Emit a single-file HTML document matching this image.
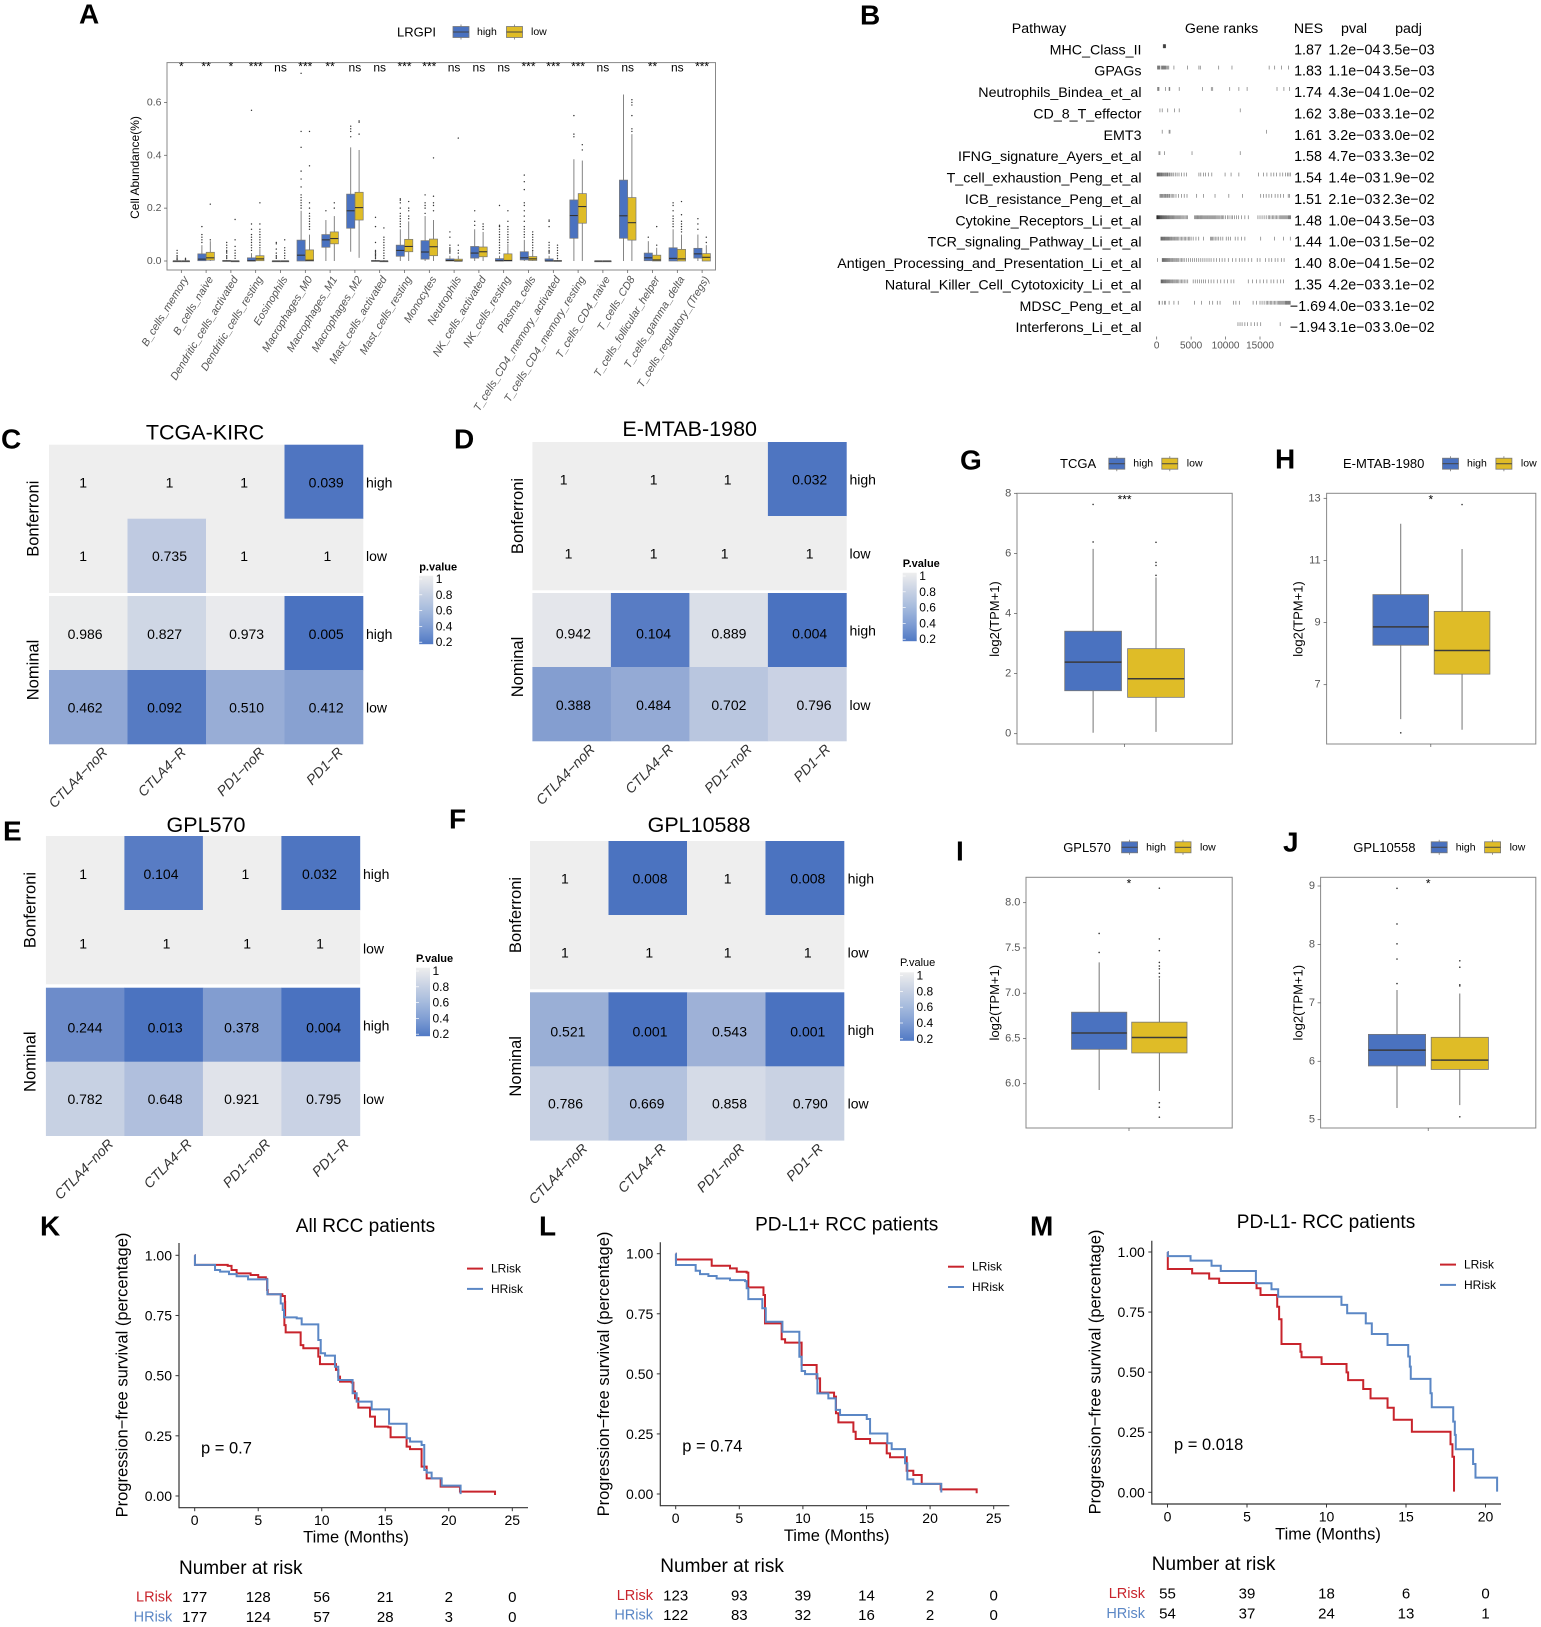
<!DOCTYPE html>
<html lang="en">
<head>
<meta charset="utf-8">
<title>LRGPI immune landscape figure</title>
<style>
html,body{margin:0;padding:0;background:#fff;width:1541px;height:1627px;overflow:hidden}
svg{display:block;filter:blur(0.3px)}
text{font-family:"Liberation Sans",Arial,sans-serif;fill:#000}
.letter{font-size:28px;font-weight:bold;dominant-baseline:central}
</style>
</head>
<body>
<svg id="figure" xmlns="http://www.w3.org/2000/svg" width="1541" height="1627" viewBox="0 0 1541 1627">
  <defs>
    <linearGradient id="pvalGrad" x1="0" y1="0" x2="0" y2="1">
      <stop offset="0" stop-color="#eeeeee"/>
      <stop offset="0.25" stop-color="#cad3e4"/>
      <stop offset="0.5" stop-color="#a6bbdd"/>
      <stop offset="0.75" stop-color="#7f9dd3"/>
      <stop offset="1" stop-color="#5079c4"/>
    </linearGradient>
  </defs>
  <rect width="1541" height="1627" fill="#fff"/>
  <text class="letter" x="79" y="14">A</text>
  <text class="letter" x="860" y="15">B</text>
  <text class="letter" x="1" y="439">C</text>
  <text class="letter" x="454" y="439">D</text>
  <text class="letter" x="3" y="831">E</text>
  <text class="letter" x="449" y="819">F</text>
  <text class="letter" x="960" y="460">G</text>
  <text class="letter" x="1275" y="459">H</text>
  <text class="letter" x="956" y="851">I</text>
  <text class="letter" x="1283" y="842">J</text>
  <text class="letter" x="40" y="1226">K</text>
  <text class="letter" x="539" y="1226">L</text>
  <text class="letter" x="1030" y="1226">M</text>
  <g id="panelA"></g>
  <g id="panelB"></g>
  <g id="panelC"></g>
  <g id="panelD"></g>
  <g id="panelE"></g>
  <g id="panelF"></g>
  <g id="panelG"></g>
  <g id="panelH"></g>
  <g id="panelI"></g>
  <g id="panelJ"></g>
  <g id="panelK"></g>
  <g id="panelL"></g>
  <g id="panelM"></g>
</svg>
<script>
/* ---------- Panel A data ---------- */
const immuneCategories = ["B_cells_memory","B_cells_naive","Dendritic_cells_activated","Dendritic_cells_resting","Eosinophils","Macrophages_M0","Macrophages_M1","Macrophages_M2","Mast_cells_activated","Mast_cells_resting","Monocytes","Neutrophils","NK_cells_activated","NK_cells_resting","Plasma_cells","T_cells_CD4_memory_activated","T_cells_CD4_memory_resting","T_cells_CD4_naive","T_cells_CD8","T_cells_follicular_helper","T_cells_gamma_delta","T_cells_regulatory_(Tregs)"];
const immuneSignificance = ["*","**","*","***","ns","***","**","ns","ns","***","***","ns","ns","ns","***","***","***","ns","ns","**","ns","***"];
const immuneTicks = [0,0.2,0.4,0.6];
const highQ1 = [0,.001,0,0,0,0,.052,.124,0,.018,.007,0,.011,0,.004,0,.086,0,.086,.001,0,.011];
const highMedian = [0,.007,0,.001,0,.022,.08,.19,0,.04,.034,.002,.03,.001,.012,0,.172,0,.171,.012,.01,.027];
const highQ3 = [0,.027,.002,.012,0,.079,.1,.253,.002,.06,.077,.008,.055,.009,.035,.008,.231,0,.306,.03,.05,.048];
const highWhiskerLow = [0,0,0,0,0,0,0,.035,0,0,0,0,0,0,0,0,0,0,0,0,0,0];
const highWhiskerHigh = [0,.06,.005,.03,0,.19,.155,.43,.005,.12,.17,.02,.12,.02,.08,.02,.385,0,.63,.075,.12,.1];
const highOutliers = [
 [.005,.01,.015,.02,.03,.04],[.07,.08,.09,.1,.13],[.01,.015,.02,.03,.035,.04,.05,.06,.07],[.04,.05,.06,.07,.08,.09,.1,.12,.14,.57],
 [.01,.015,.02,.03,.045,.065,.07],[.2,.21,.22,.23,.24,.25,.28,.31,.34,.43,.49,.71],[.19],[.47,.49,.5,.51],
 [.01,.015,.02,.025,.03,.035,.04,.07,.13,.165],[.13,.14,.15,.16,.17,.18,.2,.22,.23,.235],[.18,.2,.21,.22,.25],[.03,.035,.04,.045,.05,.06,.09,.11],
 [.135,.15,.19],[.03,.04,.05,.06,.07,.08,.09,.1,.11,.12,.13,.135,.21],[.09,.1,.11,.12,.13,.15,.17,.19,.21,.22,.27,.3,.325],[.03,.035,.04,.05,.06,.07,.13,.15,.155],
 [.47,.48,.55],[],[],[.09],[.13,.14,.15,.16,.17,.19,.21,.22],[.12,.14,.16]];
const lowQ1 = [0,.003,0,.001,0,0,.065,.155,0,.035,.02,0,.016,0,.002,0,.143,0,.079,0,0,0];
const lowMedian = [0,.012,0,.008,0,.003,.085,.202,0,.055,.054,0,.035,.002,.008,0,.206,0,.145,.004,.008,.014];
const lowQ3 = [0,.033,0,.02,0,.042,.11,.26,0,.082,.083,.007,.053,.027,.017,.002,.255,0,.24,.022,.044,.028];
const lowWhiskerLow = [0,0,0,0,0,0,0,.012,0,0,0,0,0,0,0,0,0,0,0,0,0,0];
const lowWhiskerHigh = [0,.075,.002,.045,0,.1,.17,.42,.003,.15,.155,.02,.11,.065,.038,.005,.38,0,.48,.05,.1,.06];
const lowOutliers = [
 [.005,.01],[.08,.215],[.01,.02,.03,.04,.055,.08,.157],[.05,.06,.07,.08,.09,.1,.11,.12,.14,.22],
 [.01,.02,.03,.04,.05,.08],[.12,.13,.14,.15,.16,.17,.18,.2,.22,.36,.49],[.2,.22],[.48,.525,.53],
 [.01,.02,.03,.04,.05,.06,.07,.08,.09,.125],[.16,.17,.19,.2,.225],[.19,.21,.22,.245,.39],[.03,.04,.06,.465],
 [.12,.13,.14],[.07,.08,.09,.1,.11,.12,.13,.15,.19],[.04,.05,.06,.07,.08,.09,.1,.11],[.01,.02,.03,.04,.05,.06],
 [.42,.44],[],[.49,.5,.55,.59,.6,.61],[.06,.13],[.11,.12,.13,.14,.15,.175,.225],[.07,.09]];

/* ---------- Panel B data ---------- */
const pathwayNames = ["MHC_Class_II","GPAGs","Neutrophils_Bindea_et_al","CD_8_T_effector","EMT3","IFNG_signature_Ayers_et_al","T_cell_exhaustion_Peng_et_al","ICB_resistance_Peng_et_al","Cytokine_Receptors_Li_et_al","TCR_signaling_Pathway_Li_et_al","Antigen_Processing_and_Presentation_Li_et_al","Natural_Killer_Cell_Cytotoxicity_Li_et_al","MDSC_Peng_et_al","Interferons_Li_et_al"];
const pathwayNes = ["1.87","1.83","1.74","1.62","1.61","1.58","1.54","1.51","1.48","1.44","1.40","1.35","\u22121.69","\u22121.94"];
const pathwayPval = ["1.2e\u221204","1.1e\u221204","4.3e\u221204","3.8e\u221203","3.2e\u221203","4.7e\u221203","1.4e\u221203","2.1e\u221203","1.0e\u221204","1.0e\u221203","8.0e\u221204","4.2e\u221203","4.0e\u221203","3.1e\u221203"];
const pathwayPadj = ["3.5e\u221203","3.5e\u221203","1.0e\u221202","3.1e\u221202","3.0e\u221202","3.3e\u221202","1.9e\u221202","2.3e\u221202","3.5e\u221203","1.5e\u221202","1.5e\u221202","3.1e\u221202","3.1e\u221202","3.0e\u221202"];
const rankTicks = [0,5000,10000,15000];
const geneRanks = [
 [950,1000,1050,1100,1150,1200,1250,1300],
 [130,200,270,400,470,700,800,900,1000,1100,1200,1300,1450,1600,1750,2500,4470,6130,6330,9000,10930,16330,17130,18130,19130],
 [130,270,330,1270,1800,1900,3270,6670,7930,8130,10600,11930,13130,17470,18470,19270],
 [470,800,1600,2600,3270,12130],
 [800,1800,1930,15930],
 [330,470,1130,5130,12130],
 [50,120,200,290,360,450,530,640,720,840,930,1050,1180,1260,1390,1520,1610,1780,1900,2080,2230,2470,2700,2960,3240,3600,3980,4310,6130,6400,6790,7100,7500,8000,9930,10800,11930,14800,15500,16000,16600,17000,17400,17900,18300,18700,19000,19200,19400],
 [470,600,700,830,950,1100,1230,1350,1500,1620,1780,1900,2100,2330,2500,2800,3150,3600,4000,4400,5800,6800,8470,10470,12470,15100,15500,15900,16300,16700,17200,17600,18000,18400,19100,19300],
 [0,40,80,120,160,200,250,300,350,400,460,520,590,660,730,800,880,960,1040,1120,1210,1300,1390,1480,1580,1680,1780,1890,2000,2110,2230,2350,2470,2600,2740,2880,3020,3170,3320,3480,3640,3800,3960,4130,4300,4480,5500,5620,5750,5880,6000,6130,6270,6400,6530,6670,6800,6940,7080,7220,7360,7500,7650,7800,7950,8100,8250,8400,8560,8720,8880,9040,9200,9380,9560,9740,10000,10300,10500,10800,11000,11300,11600,11900,12300,12800,13300,14700,15000,15300,15600,15900,16200,16400,16600,16800,17000,17200,17400,17600,17800,18000,18150,18300,18450,18600,18750,18900,19050,19150,19250,19350,19450],
 [600,680,760,850,930,1020,1110,1200,1300,1400,1500,1600,1700,1800,1920,2050,2170,2300,2430,2570,2700,2850,3000,3200,3400,3600,3800,4000,4200,4400,4600,4800,5000,5300,5700,6100,6800,7800,7950,8100,8300,8500,8750,9000,9300,9600,10100,10400,10700,11400,11800,12300,12800,15100,17100,18400,19400],
 [130,800,880,960,1050,1140,1230,1330,1430,1530,1640,1760,1880,2000,2130,2270,2400,2550,2700,2870,3050,3200,3400,3600,3800,4000,4300,4600,4900,5200,5500,5800,6100,6400,6700,7000,7300,7600,7900,8300,8700,9100,9500,9900,10400,11000,11500,12000,12400,12800,13300,13800,14600,15000,15800,16300,16700,17200,17600,18100,18500],
 [630,700,780,860,950,1040,1130,1230,1330,1430,1540,1650,1770,1890,2010,2140,2270,2400,2550,2700,2860,3020,3200,3400,3600,3800,4000,4250,4500,5300,5600,5900,6200,6500,6800,7100,7500,7900,8300,8800,9300,9800,10300,10800,11200,13300,13900,14500,15000,15500,16000,16600,17000,17500,18000,18400],
 [330,420,800,1130,1250,1800,2500,3130,5500,6500,7670,8130,8800,9200,11130,11500,12000,14000,14500,15000,15300,15600,15900,16100,16300,16500,16700,16900,17100,17300,17500,17700,17850,18000,18150,18300,18450,18600,18700,18800,18900,19000,19100,19200,19300,19400],
 [11800,12100,12400,12800,13200,13700,14200,14600,15100,17930]];

/* ---------- Heatmap data (rows: high, low) ---------- */
const therapyColumns = ["CTLA4\u2212noR","CTLA4\u2212R","PD1\u2212noR","PD1\u2212R"];
const groupRows = ["high","low"];
const colorbarTicks = [1,0.8,0.6,0.4,0.2];
const kircBonferroni = [["1","1","1","0.039"],["1","0.735","1","1"]];
const kircNominal = [["0.986","0.827","0.973","0.005"],["0.462","0.092","0.510","0.412"]];
const mtabBonferroni = [["1","1","1","0.032"],["1","1","1","1"]];
const mtabNominal = [["0.942","0.104","0.889","0.004"],["0.388","0.484","0.702","0.796"]];
const gpl570Bonferroni = [["1","0.104","1","0.032"],["1","1","1","1"]];
const gpl570Nominal = [["0.244","0.013","0.378","0.004"],["0.782","0.648","0.921","0.795"]];
const gpl10588Bonferroni = [["1","0.008","1","0.008"],["1","1","1","1"]];
const gpl10588Nominal = [["0.521","0.001","0.543","0.001"],["0.786","0.669","0.858","0.790"]];

/* ---------- Expression boxplot data: [whiskerLow, q1, median, q3, whiskerHigh] ---------- */
const tcgaTicks = [0,2,4,6,8];
const tcgaHigh = [.03,1.43,2.38,3.41,6.15];
const tcgaHighOutliers = [6.38,7.63];
const tcgaLow = [.06,1.21,1.83,2.83,5.2];
const tcgaLowOutliers = [5.27,5.6,5.7,6.37];
const mtabTicks = [7,9,11,13];
const mtabHigh = [5.89,8.27,8.86,9.9,12.18];
const mtabHighOutliers = [5.45];
const mtabLow = [5.55,7.34,8.1,9.36,11.37];
const mtabLowOutliers = [12.8];
const gpl570Ticks = [6,6.5,7,7.5,8];
const gpl570High = [5.93,6.38,6.56,6.79,7.34];
const gpl570HighOutliers = [7.45,7.66];
const gpl570Low = [5.92,6.34,6.51,6.68,7.16];
const gpl570LowOutliers = [5.63,5.74,5.79,7.18,7.22,7.27,7.3,7.34,7.47,7.6,8.16];
const gpl10558Ticks = [5,6,7,8,9];
const gpl10558High = [5.2,5.92,6.19,6.46,7.22];
const gpl10558HighOutliers = [7.33,7.75,8.01,8.35,8.96];
const gpl10558Low = [5.25,5.86,6.02,6.41,7.16];
const gpl10558LowOutliers = [5.05,7.29,7.31,7.61,7.72];

/* ---------- Survival data ---------- */
const survivalTicks = [0,0.25,0.5,0.75,1];
const kTimeTicks = [0,5,10,15,20,25];
const kLRiskTime = [0,.02,2.6,2.9,3.3,4.4,5,5.6,5.7,5.75,6.9,7.1,7.12,7.06,7.16,8.34,8.55,9.73,9.86,11.12,11.3,11.44,12.36,12.49,12.62,12.88,13.8,14.19,15.24,15.42,16.68,16.95,17.86,18.26,19.36,20.88,23.64];
const kLRiskSurv = [1,.96,.956,.939,.925,.918,.909,.902,.856,.838,.831,.807,.751,.71,.68,.627,.614,.579,.548,.524,.496,.475,.471,.434,.406,.367,.33,.288,.285,.244,.205,.195,.122,.073,.039,.018,.004];
const kHRiskTime = [0,.02,1.6,2,2.7,3.3,4.2,5.72,6.77,6.93,7.03,8.03,8.42,9.73,9.92,10.26,11.04,11.3,12.43,12.75,13.93,15.3,16.68,16.95,17.86,18.07,18.26,18.65,19.44,20.93];
const kHRiskSurv = [1,.96,.939,.932,.922,.913,.9,.838,.8,.773,.742,.738,.713,.648,.593,.583,.537,.482,.427,.392,.36,.3,.24,.226,.212,.108,.097,.073,.043,.008];
const kRiskLow = [177,128,56,21,2,0];
const kRiskHigh = [177,124,57,28,3,0];

const lTimeTicks = [0,5,10,15,20,25];
const lLRiskTime = [0,.02,2.83,4.27,4.8,5.58,5.71,6.9,7.02,8.33,8.6,9.9,11.08,11.35,12.45,12.6,12.79,13.97,14.15,15.28,16.59,16.85,18.16,18.68,19.34,20.83,23.66];
const lLRiskSurv = [1,.976,.95,.939,.925,.921,.86,.828,.71,.644,.63,.537,.481,.422,.405,.336,.298,.259,.229,.211,.169,.153,.097,.079,.042,.019,.003];
const lHRiskTime = [0,.02,1.57,1.91,2.57,3.22,4.27,5.45,5.58,5.71,6.81,7.08,8.39,9.72,9.9,10.17,11.14,12,12.58,12.92,15.02,15.28,16.64,16.98,18.03,18.21,18.68,20.88];
const lHRiskSurv = [1,.953,.929,.915,.907,.897,.89,.886,.856,.811,.773,.717,.675,.571,.512,.499,.419,.398,.35,.329,.312,.252,.211,.187,.128,.061,.042,.006];
const lRiskLow = [123,93,39,14,2,0];
const lRiskHigh = [122,83,32,16,2,0];

const mTimeTicks = [0,5,10,15,20];
const mLRiskTime = [0,.02,1.55,2.62,3.25,5.6,5.85,6.9,7.02,7.17,8.36,8.43,9.69,11.26,11.36,12.31,12.77,13.84,14.23,15.37,17.8,17.92,18,18.02];
const mLRiskSurv = [1,.929,.911,.889,.871,.849,.821,.772,.72,.617,.585,.562,.534,.499,.467,.43,.391,.352,.302,.252,.2,.148,.148,.003];
const mHRiskTime = [0,.02,1.45,2.77,3.35,5.56,6.54,6.96,10.94,11.3,12.47,12.85,13.84,15.14,15.24,15.3,16.54,16.62,17.97,18.07,18.13,19.22,19.37,20.73];
const mHRiskSurv = [1,.983,.964,.943,.921,.87,.845,.814,.78,.745,.703,.659,.613,.565,.523,.472,.412,.354,.294,.239,.179,.118,.061,.003];
const mRiskLow = [55,39,18,6,0];
const mRiskHigh = [54,37,24,13,1];

/* ---------- Helpers ---------- */
const NS = 'http://www.w3.org/2000/svg';
const BLUE = '#4a72c0', GOLD = '#dfbc27', KM_RED = '#c8242c', KM_BLUE = '#5b87c5';
function linear(d0, d1, p0, p1) { return v => p0 + (v - d0) * (p1 - p0) / (d1 - d0); }
function node(tag, parent, name, attrs) {
  const el = document.createElementNS(NS, tag);
  for (const k in attrs) el.setAttribute(k, attrs[k]);
  
  
  parent.appendChild(el);
  return el;
}
function txt(parent, name, str, x, y, size, attrs) {
  const el = node('text', parent, name, Object.assign({x: x, y: y, 'font-size': size, 'dominant-baseline': 'central'}, attrs || {}));
  el.textContent = str;
  return el;
}
function hLine(p, name, x1, x2, y, stroke, w) { return node('line', p, name, {x1: x1, x2: x2, y1: y, y2: y, stroke: stroke, 'stroke-width': w}); }
function vLine(p, name, x, y1, y2, stroke, w) { return node('line', p, name, {x1: x, x2: x, y1: y1, y2: y2, stroke: stroke, 'stroke-width': w}); }
function pColor(v) {
  const t = Math.pow(Math.min(1, Math.max(0, v)), 1.1);
  const c = (a, b) => Math.round(a + (b - a) * t);
  return 'rgb(' + c(74, 238) + ',' + c(114, 238) + ',' + c(192, 238) + ')';
}
function boxKey(p, name, x, y, color) {
  const g = node('g', p, name, {});
  vLine(g, name + '-whisker', x + 8, y - 2, y + 13, '#777', 0.8);
  node('rect', g, name + '-swatch', {x: x, y: y, width: 16, height: 11, fill: color, stroke: '#777', 'stroke-width': 0.8});
  hLine(g, name + '-median', x, x + 16, y + 5.5, '#444', 1);
  return g;
}

/* ---------- Panel A ---------- */
(function () {
  const p = document.getElementById('panelA');
  const yS = linear(0, 0.6, 261, 102.4);
  const xS = i => 181.3 + i * 24.8;
  node('rect', p, 'plot-border', {x: 167, y: 62.6, width: 548.5, height: 207.4, fill: 'none', stroke: '#888', 'stroke-width': 1});
  immuneTicks.forEach(v => {
    hLine(p, 'y-tick', 164, 167, yS(v), '#555', 0.7);
    txt(p, 'y-tick-label', v.toFixed(1), 161.5, yS(v), 10.5, {'text-anchor': 'end', style: 'fill:#555'});
  });
  txt(p, 'y-axis-title', 'Cell Abundance(%)', 0, 0, 12, {'text-anchor': 'middle', transform: 'translate(135,167.5) rotate(-90)'});
  const one = (cx, color, q1, med, q3, lo, hi, outs, name) => {
    const g = node('g', p, name, {});
    vLine(g, name + '-whisker', cx, yS(lo), yS(hi), '#777', 0.9);
    node('rect', g, name + '-box', {x: cx - 4.1, y: yS(q3), width: 8.2, height: Math.max(0.8, yS(q1) - yS(q3)), fill: color, stroke: '#777', 'stroke-width': 0.7});
    hLine(g, name + '-median', cx - 4.1, cx + 4.1, yS(med), '#333', 1.1);
    outs.forEach(v => node('circle', g, name + '-outlier', {cx: cx, cy: yS(v), r: 0.7, fill: '#333'}));
  };
  immuneCategories.forEach((c, i) => {
    const x = xS(i);
    vLine(p, 'x-tick', x, 270, 273, '#555', 0.7);
    txt(p, 'x-tick-label', c, 0, 0, 10.8, {'text-anchor': 'end', 'font-style': 'italic', style: 'fill:#555', 'dominant-baseline': 'auto', transform: 'translate(' + (x + 7.5) + ',279) rotate(-58.5)'});
    const sig = immuneSignificance[i];
    txt(p, 'significance-label', sig, x, sig === 'ns' ? 67.3 : 66.5, 12, {'text-anchor': 'middle'});
    one(x - 4.2, BLUE, highQ1[i], highMedian[i], highQ3[i], highWhiskerLow[i], highWhiskerHigh[i], highOutliers[i], 'box-high');
    one(x + 4.2, GOLD, lowQ1[i], lowMedian[i], lowQ3[i], lowWhiskerLow[i], lowWhiskerHigh[i], lowOutliers[i], 'box-low');
  });
  txt(p, 'legend-title', 'LRGPI', 397, 32, 13);
  boxKey(p, 'legend-key-high', 453, 26.5, BLUE);
  txt(p, 'legend-label-high', 'high', 477, 32, 10.5);
  boxKey(p, 'legend-key-low', 506.5, 26.5, GOLD);
  txt(p, 'legend-label-low', 'low', 531, 32, 10.5);
})();

/* ---------- Panel B ---------- */
(function () {
  const p = document.getElementById('panelB');
  const rowY = i => 50.3 + i * 21.38;
  const rS = linear(0, 15000, 1156.7, 1260);
  txt(p, 'column-header-pathway', 'Pathway', 1039, 29, 14.2, {'text-anchor': 'middle'});
  txt(p, 'column-header-gene-ranks', 'Gene ranks', 1221.5, 29, 14.2, {'text-anchor': 'middle'});
  txt(p, 'column-header-nes', 'NES', 1308.5, 29, 14.2, {'text-anchor': 'middle'});
  txt(p, 'column-header-pval', 'pval', 1354, 29, 14.2, {'text-anchor': 'middle'});
  txt(p, 'column-header-padj', 'padj', 1408.5, 29, 14.2, {'text-anchor': 'middle'});
  pathwayNames.forEach((n, i) => {
    const y = rowY(i);
    txt(p, 'pathway-name', n, 1141.5, y, 14.25, {'text-anchor': 'end'});
    txt(p, 'nes-value', pathwayNes[i], 1308, y, 14.3, {'text-anchor': 'middle'});
    txt(p, 'pval-value', pathwayPval[i], 1354.4, y, 14.3, {'text-anchor': 'middle'});
    txt(p, 'padj-value', pathwayPadj[i], 1408.5, y, 14.3, {'text-anchor': 'middle'});
    geneRanks[i].forEach(r => {
      vLine(p, 'gene-rank-tick', rS(r), y - 6, y - 2.2, '#000', 0.75).setAttribute('stroke-opacity', '0.5');
    });
  });
  rankTicks.forEach(t => {
    vLine(p, 'rank-axis-tick', rS(t), 336.5, 339.5, '#555', 0.7);
    txt(p, 'rank-axis-label', String(t), rS(t), 346, 10, {'text-anchor': 'middle', style: 'fill:#555'});
  });
})();

/* ---------- Heatmaps ---------- */
function heatmap(id, title, bon, nom, cfg) {
  const p = document.getElementById(id);
  const w = (cfg.x1 - cfg.x0) / 4;
  const cx = c => cfg.x0 + w * c;
  txt(p, 'heatmap-title', title, cfg.titleX, cfg.titleY, 21.5, {'text-anchor': 'middle'});
  const drawFacet = (vals, top, h, label, offset) => {
    vals.forEach((row, r) => {
      row.forEach((s, c) => {
        node('rect', p, 'heatmap-cell', {x: cx(c), y: top + r * h, width: w + 0.3, height: h + 0.3, fill: pColor(parseFloat(s))});
        txt(p, 'cell-value', s, cfg.textX[offset + r][c], cfg.textY[offset + r], 14, {'text-anchor': 'middle'});
      });
      txt(p, 'row-label', groupRows[r], cfg.rowLabelX, cfg.rowLabelY[offset + r], 14);
    });
    txt(p, 'facet-label', label, 0, 0, 16.5, {'text-anchor': 'middle', transform: 'translate(' + cfg.facetX + ',' + (top + h) + ') rotate(-90)'});
  };
  drawFacet(bon, cfg.bonTop, cfg.h, 'Bonferroni', 0);
  drawFacet(nom, cfg.nomTop, cfg.h, 'Nominal', 2);
  therapyColumns.forEach((c, i) => {
    txt(p, 'x-tick-label', c, 0, 0, 14, {'text-anchor': 'end', 'font-style': 'italic', style: 'fill:#333', 'dominant-baseline': 'auto', transform: 'translate(' + (cx(i) + w / 2 + cfg.labDx) + ',' + (cfg.nomTop + 2 * cfg.h + 9) + ') rotate(-46)'});
  });
  const lg = cfg.legend;
  txt(p, 'colorbar-title', lg.title, lg.x, lg.titleY, 11, lg.bold ? {'font-weight': 'bold'} : {});
  node('rect', p, 'colorbar', {x: lg.x, y: lg.top, width: 14, height: 68.5, fill: 'url(#pvalGrad)'});
  const tS = linear(1, 0.2, lg.top + 3.3, lg.top + 66.5);
  colorbarTicks.forEach(v => {
    hLine(p, 'colorbar-tick', lg.x, lg.x + 3, tS(v), '#fff', 0.7);
    txt(p, 'colorbar-label', String(v), lg.x + 16.5, tS(v), 12);
  });
}
heatmap('panelC', 'TCGA-KIRC', kircBonferroni, kircNominal, {x0: 49, x1: 363, h: 74, bonTop: 444.7, nomTop: 596, titleX: 205, titleY: 432.7, facetX: 33.7, labDx: 20, rowLabelX: 366,
  textX: [[83.2,169.5,244.2,326.2],[83.2,169.5,244.2,327.4],[85.1,164.6,246.6,326.2],[85.1,164.6,246.6,326.2]],
  textY: [482.3,556,634,707.7], rowLabelY: [482.3,556,634,707.7],
  legend: {x: 419.2, top: 575.7, title: 'p.value', titleY: 567.7, bold: true}});
heatmap('panelD', 'E-MTAB-1980', mtabBonferroni, mtabNominal, {x0: 532.4, x1: 846.4, h: 74, bonTop: 442, nomTop: 593, titleX: 689.7, titleY: 429, facetX: 518, labDx: 24, rowLabelX: 849.5,
  textX: [[563.6,653.6,727.7,809.7],[568.5,653.6,724.6,809.7],[573.4,653.6,728.9,809.7],[573.4,653.6,728.9,814]],
  textY: [479.3,553.3,633.3,705], rowLabelY: [479.3,553.3,630.7,705],
  legend: {x: 902.7, top: 572.7, title: 'P.value', titleY: 564, bold: true}});
heatmap('panelE', 'GPL570', gpl570Bonferroni, gpl570Nominal, {x0: 45.9, x1: 359.9, h: 74, bonTop: 836, nomTop: 987.7, titleX: 206, titleY: 825, facetX: 30.6, labDx: 29, rowLabelX: 363,
  textX: [[83.2,161,245.4,319.5],[83.2,166.5,247.2,320],[85,165.2,241.7,323.7],[85,165.2,241.7,323.7]],
  textY: [874,943.3,1027.7,1099], rowLabelY: [874,948.3,1025.7,1099],
  legend: {x: 416, top: 967.7, title: 'P.value', titleY: 959, bold: true}});
heatmap('panelF', 'GPL10588', gpl10588Bonferroni, gpl10588Nominal, {x0: 530, x1: 844, h: 74, bonTop: 841, nomTop: 992.3, titleX: 699, titleY: 825, facetX: 516, labDx: 19, rowLabelX: 847.6,
  textX: [[564.9,650,727.7,807.8],[564.9,649.3,727.7,807.8],[567.9,650,729.5,807.8],[565.5,646.9,729.5,810.3]],
  textY: [878.7,952.7,1031.7,1103.7], rowLabelY: [878.7,952.7,1030,1103.7],
  legend: {x: 900, top: 972.3, title: 'P.value', titleY: 963, bold: false}});

/* ---------- Expression boxplots ---------- */
function expressionBox(id, title, ticks, tickFmt, high, highOut, low, lowOut, sig, cfg) {
  const p = document.getElementById(id);
  const yS = linear(cfg.d0, cfg.d1, cfg.p0, cfg.p1);
  node('rect', p, 'plot-border', {x: cfg.x0, y: cfg.top, width: cfg.x1 - cfg.x0, height: cfg.bottom - cfg.top, fill: 'none', stroke: '#888', 'stroke-width': 1});
  ticks.forEach(v => {
    hLine(p, 'y-tick', cfg.x0 - 3, cfg.x0, yS(v), '#555', 0.7);
    txt(p, 'y-tick-label', tickFmt(v), cfg.labelRight, yS(v), 11, {'text-anchor': 'end', style: 'fill:#555'});
  });
  vLine(p, 'x-tick', cfg.tick, cfg.bottom, cfg.bottom + 3, '#555', 0.7);
  txt(p, 'y-axis-title', 'log2(TPM+1)', 0, 0, 13, {'text-anchor': 'middle', transform: 'translate(' + cfg.titleX + ',' + cfg.titleCy + ') rotate(-90)'});
  txt(p, 'significance-label', sig, cfg.tick, cfg.top + 6, 12, {'text-anchor': 'middle'});
  const one = (bx, stats, outs, color, name) => {
    const c = bx + cfg.bw / 2;
    const g = node('g', p, name, {});
    vLine(g, name + '-whisker', c, yS(stats[0]), yS(stats[4]), '#666', 0.9);
    node('rect', g, name + '-box', {x: bx, y: yS(stats[3]), width: cfg.bw, height: yS(stats[1]) - yS(stats[3]), fill: color, stroke: '#777', 'stroke-width': 0.8});
    hLine(g, name + '-median', bx, bx + cfg.bw, yS(stats[2]), '#3a3a3a', 1.5);
    outs.forEach(v => node('circle', g, name + '-outlier', {cx: c, cy: yS(v), r: 0.8, fill: '#333'}));
  };
  one(cfg.hx, high, highOut, BLUE, 'box-high');
  one(cfg.lx, low, lowOut, GOLD, 'box-low');
  const lg = cfg.lg;
  txt(p, 'legend-title', title, lg.tx, lg.y, 13);
  boxKey(p, 'legend-key-high', lg.k1, lg.y - 5.5, BLUE);
  txt(p, 'legend-label-high', 'high', lg.k1 + 24.5, lg.y, 10.5);
  boxKey(p, 'legend-key-low', lg.k2, lg.y - 5.5, GOLD);
  txt(p, 'legend-label-low', 'low', lg.k2 + 25, lg.y, 10.5);
}
expressionBox('panelG', 'TCGA', tcgaTicks, String, tcgaHigh, tcgaHighOutliers, tcgaLow, tcgaLowOutliers, '***',
  {d0: 0, d1: 8, p0: 733.7, p1: 493.3, x0: 1017, x1: 1232.2, top: 493.3, bottom: 744, tick: 1124.6, labelRight: 1011.3, titleX: 994.4, titleCy: 619, bw: 56.8, hx: 1064.7, lx: 1127.6, lg: {tx: 1060, y: 463.7, k1: 1108.8, k2: 1161.8}});
expressionBox('panelH', 'E-MTAB-1980', mtabTicks, String, mtabHigh, mtabHighOutliers, mtabLow, mtabLowOutliers, '*',
  {d0: 7, d1: 13, p0: 684.7, p1: 498.3, x0: 1326.6, x1: 1535.8, top: 493.3, bottom: 744, tick: 1430.8, labelRight: 1320.6, titleX: 1298, titleCy: 619, bw: 55.7, hx: 1372.9, lx: 1434.2, lg: {tx: 1343, y: 463.7, k1: 1442.5, k2: 1495.9}});
expressionBox('panelI', 'GPL570', gpl570Ticks, v => v.toFixed(1), gpl570High, gpl570HighOutliers, gpl570Low, gpl570LowOutliers, '*',
  {d0: 6, d1: 8, p0: 1083.7, p1: 902.7, x0: 1026, x1: 1232.2, top: 877.3, bottom: 1128, tick: 1129, labelRight: 1020.4, titleX: 994.4, titleCy: 1002.7, bw: 55.3, hx: 1071.5, lx: 1131.7, lg: {tx: 1063.2, y: 847.3, k1: 1121.6, k2: 1175}});
expressionBox('panelJ', 'GPL10558', gpl10558Ticks, String, gpl10558High, gpl10558HighOutliers, gpl10558Low, gpl10558LowOutliers, '*',
  {d0: 5, d1: 9, p0: 1119.7, p1: 886, x0: 1320.6, x1: 1535.8, top: 877.3, bottom: 1128, tick: 1428.2, labelRight: 1315, titleX: 1298, titleCy: 1002.7, bw: 57.2, hx: 1368.4, lx: 1431.2, lg: {tx: 1353.3, y: 847.3, k1: 1431.2, k2: 1484.6}});

/* ---------- Survival curves ---------- */
function survival(id, title, pText, ticks, lowT, lowS, highT, highS, riskL, riskH, c) {
  const p = document.getElementById(id);
  const xS = linear(0, ticks[ticks.length - 1], c.t0, c.tEnd);
  const yS = linear(0, 1, c.s0, c.s1);
  vLine(p, 'y-axis-line', c.left, c.top, c.bottom + 0.6, '#333', 1.2);
  hLine(p, 'x-axis-line', c.left, c.right, c.bottom, '#333', 1.2);
  ticks.forEach(t => {
    vLine(p, 'x-tick', xS(t), c.bottom, c.bottom + 3.5, '#333', 1);
    txt(p, 'x-tick-label', String(t), xS(t), c.bottom + 12.5, 14, {'text-anchor': 'middle'});
  });
  survivalTicks.forEach(s => {
    hLine(p, 'y-tick', c.left - 3.5, c.left, yS(s), '#333', 1);
    txt(p, 'y-tick-label', s.toFixed(2), c.left - 7, yS(s), 14, {'text-anchor': 'end'});
  });
  txt(p, 'chart-title', title, c.titleX, c.titleY, 19, {'text-anchor': 'middle'});
  txt(p, 'x-axis-title', 'Time (Months)', c.xTitleX, c.xTitleY, 16.5, {'text-anchor': 'middle'});
  txt(p, 'y-axis-title', 'Progression\u2212free survival (percentage)', 0, 0, 16.5, {'text-anchor': 'middle', transform: 'translate(' + c.yTitleX + ',' + c.yTitleY + ') rotate(-90)'});
  const step = (T, S) => T.map((t, i) => (i === 0 ? 'M' + xS(t) + ' ' + yS(S[i]) : 'H' + xS(t) + 'V' + yS(S[i]))).join('');
  node('path', p, 'lrisk-survival-curve', {d: step(lowT, lowS), fill: 'none', stroke: KM_RED, 'stroke-width': 2});
  node('path', p, 'hrisk-survival-curve', {d: step(highT, highS), fill: 'none', stroke: KM_BLUE, 'stroke-width': 2});
  hLine(p, 'legend-line-lrisk', c.legX, c.legX + 16, c.legY, KM_RED, 2);
  txt(p, 'legend-label-lrisk', 'LRisk', c.legX + 24, c.legY, 12);
  hLine(p, 'legend-line-hrisk', c.legX, c.legX + 16, c.legY + 20.3, KM_BLUE, 2);
  txt(p, 'legend-label-hrisk', 'HRisk', c.legX + 24, c.legY + 20.3, 12);
  txt(p, 'p-value-annotation', pText, c.pX, c.pY, 16.5);
  txt(p, 'risk-table-title', 'Number at risk', c.left, c.nY, 19);
  txt(p, 'risk-row-label-lrisk', 'LRisk', c.rowRight, c.r1, 14.5, {'text-anchor': 'end', style: 'fill:' + KM_RED});
  txt(p, 'risk-row-label-hrisk', 'HRisk', c.rowRight, c.r2, 14.5, {'text-anchor': 'end', style: 'fill:' + KM_BLUE});
  ticks.forEach((t, i) => {
    txt(p, 'risk-count-lrisk', String(riskL[i]), xS(t), c.r1, 15, {'text-anchor': 'middle'});
    txt(p, 'risk-count-hrisk', String(riskH[i]), xS(t), c.r2, 15, {'text-anchor': 'middle'});
  });
}
survival('panelK', 'All RCC patients', 'p = 0.7', kTimeTicks, kLRiskTime, kLRiskSurv, kHRiskTime, kHRiskSurv, kRiskLow, kRiskHigh,
  {t0: 194.7, tEnd: 512.3, s0: 1496, s1: 1255.3, left: 179, right: 528, top: 1243, bottom: 1507.7, titleX: 365.5, titleY: 1226.5, xTitleX: 356, xTitleY: 1537.7, yTitleX: 122.7, yTitleY: 1375, legX: 467, legY: 1268.6, pX: 201, pY: 1448.3, nY: 1568.3, r1: 1597.3, r2: 1617.3, rowRight: 172.3});
survival('panelL', 'PD-L1+ RCC patients', 'p = 0.74', lTimeTicks, lLRiskTime, lLRiskSurv, lHRiskTime, lHRiskSurv, lRiskLow, lRiskHigh,
  {t0: 675.7, tEnd: 993.7, s0: 1494, s1: 1253.7, left: 660.3, right: 1009.3, top: 1242.3, bottom: 1505.7, titleX: 846.7, titleY: 1225, xTitleX: 836.7, xTitleY: 1536, yTitleX: 604, yTitleY: 1374, legX: 948, legY: 1266.7, pX: 682.3, pY: 1446.7, nY: 1566.7, r1: 1596, r2: 1615.3, rowRight: 653});
survival('panelM', 'PD-L1- RCC patients', 'p = 0.018', mTimeTicks, mLRiskTime, mLRiskSurv, mHRiskTime, mHRiskSurv, mRiskLow, mRiskHigh,
  {t0: 1167.5, tEnd: 1485.5, s0: 1492.3, s1: 1252, left: 1151.8, right: 1501, top: 1240.7, bottom: 1504, titleX: 1326, titleY: 1222.7, xTitleX: 1328, xTitleY: 1534.5, yTitleX: 1095.5, yTitleY: 1372, legX: 1440, legY: 1264.6, pX: 1174, pY: 1445, nY: 1564.3, r1: 1594, r2: 1614, rowRight: 1145});
</script>
</body>
</html>
